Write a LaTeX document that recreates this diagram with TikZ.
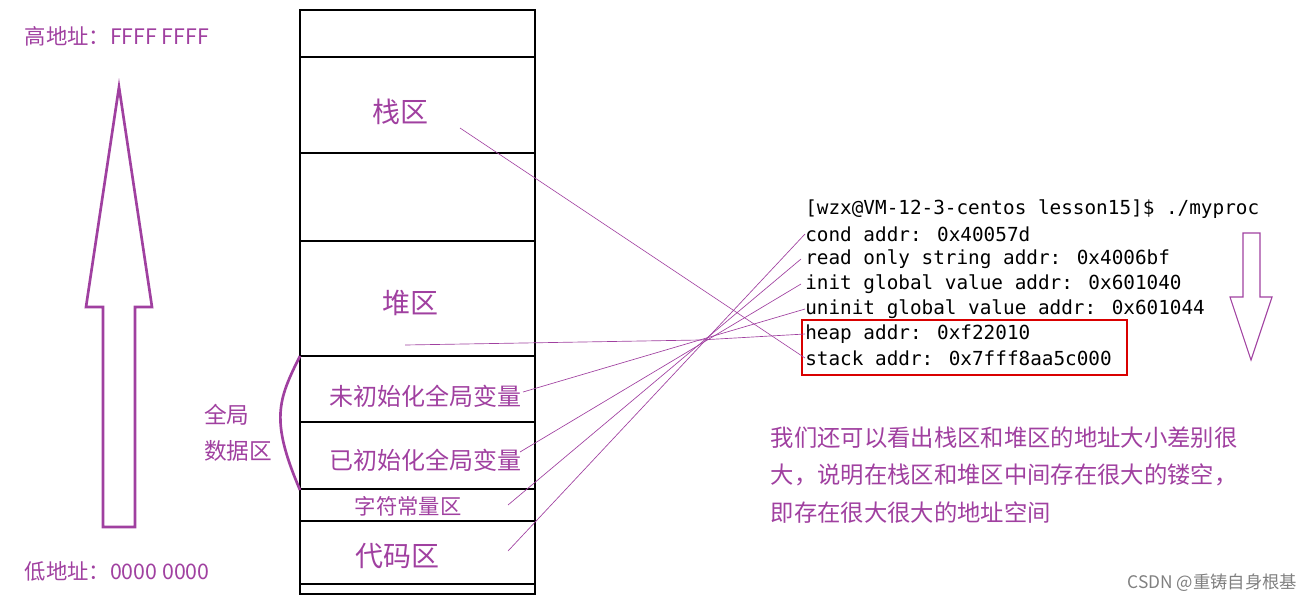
\documentclass[tikz,border=0pt]{standalone}
\usepackage{fontspec}
\newfontfamily\cjk{Noto Sans CJK SC}
\newfontfamily\mono{DejaVu Sans Mono}
\definecolor{zi}{HTML}{A040A0}
\begin{document}
\begin{tikzpicture}[x=0.75pt,y=-0.75pt,
  area/.style={font=\cjk\fontsize{18}{20}\selectfont,text=zi},
  term/.style={font=\mono\fontsize{14.5}{16}\selectfont,anchor=west,inner sep=0pt},
  link/.style={color=zi,line width=0.5pt}]
\useasboundingbox (0,0) rectangle (1308,607);

% memory column
\draw[line width=2.2pt] (300,10) rectangle (535,594);
\foreach \y in {57,153,241,356,422,489,521,584}{
  \draw[line width=2.2pt] (300,\y)--(535,\y);
}
\node[area,font=\cjk\fontsize{21}{22}\selectfont] (stack) at (400,112) {栈区};
\node[area,font=\cjk\fontsize{21}{22}\selectfont] (heap) at (410,303) {堆区};
\node[area] (uninit) at (425,396) {未初始化全局变量};
\node[area] (init) at (425,460) {已初始化全局变量};
\node[area,font=\cjk\fontsize{16}{18}\selectfont] (rodata) at (408,506) {字符常量区};
\node[area,font=\cjk\fontsize{21}{22}\selectfont] (code) at (397,556) {代码区};

% global bracket
\draw[color=zi,line width=2pt] (300,356) .. controls (278,400) and (270,420) .. (300,490);
\node[area,align=left,font=\cjk\fontsize{17}{27}\selectfont] (global) at (238,433) {全局\\数据区};

% address labels and arrow
\node[area,anchor=west,font=\cjk\fontsize{16}{18}\selectfont] (high) at (20,36) {高地址：FFFF FFFF};
\node[area,anchor=west,font=\cjk\fontsize{16}{18}\selectfont] (low) at (20,571) {低地址：0000 0000};
\draw[color=zi,line width=2pt,line join=miter] (103,527)--(103,307)--(86,307)--(119,87)--(152,307)--(135,307)--(135,527)--cycle;

% terminal output
\node[term] (cmd) at (805,209) {[wzx@VM-12-3-centos lesson15]\$ ./myproc};
\node[term] (t1) at (805,234) {cond addr: 0x40057d};
\node[term] (t2) at (805,259) {read only string addr: 0x4006bf};
\node[term] (t3) at (805,284) {init global value addr: 0x601040};
\node[term] (t4) at (805,309) {uninit global value addr: 0x601044};
\node[term] (t5) at (805,334) {heap addr: 0xf22010};
\node[term] (t6) at (805,358) {stack addr: 0x7fff8aa5c000};
\draw[color=red!85!black,line width=1.5pt] (802,320) rectangle (1127,375);
\draw[color=zi,line width=0.8pt] (1243,233)--(1260,233)--(1260,297)--(1272,297)--(1251,360)--(1230,297)--(1243,297)--cycle;

% connectors
\coordinate (cs) at (508,551);
\coordinate (rs) at (508,505);
\coordinate (is) at (520,452);
\coordinate (us) at (523,392);
\coordinate (hs) at (405,345);
\coordinate (ss) at (460,128);
\draw[link] (cs)--(t1.west);
\draw[link] (rs)--([xshift=-3pt]t2.west);
\draw[link] (is)--([xshift=-3pt]t3.west);
\draw[link] (us)--(t4.west);
\draw[link] (hs)--(700,340)--(t5.west);
\draw[link] (ss)--(t6.west);

% note
\node[area,anchor=north west,align=left,font=\cjk\fontsize{17.5}{28}\selectfont] (note) at (766,422)
  {我们还可以看出栈区和堆区的地址大小差别很\\大，说明在栈区和堆区中间存在很大的镂空，\\即存在很大很大的地址空间};
\node[anchor=east,text=gray,font=\cjk\fontsize{13}{14}\selectfont] (mark) at (1302,583) {CSDN @重铸自身根基};
\end{tikzpicture}
\end{document}
